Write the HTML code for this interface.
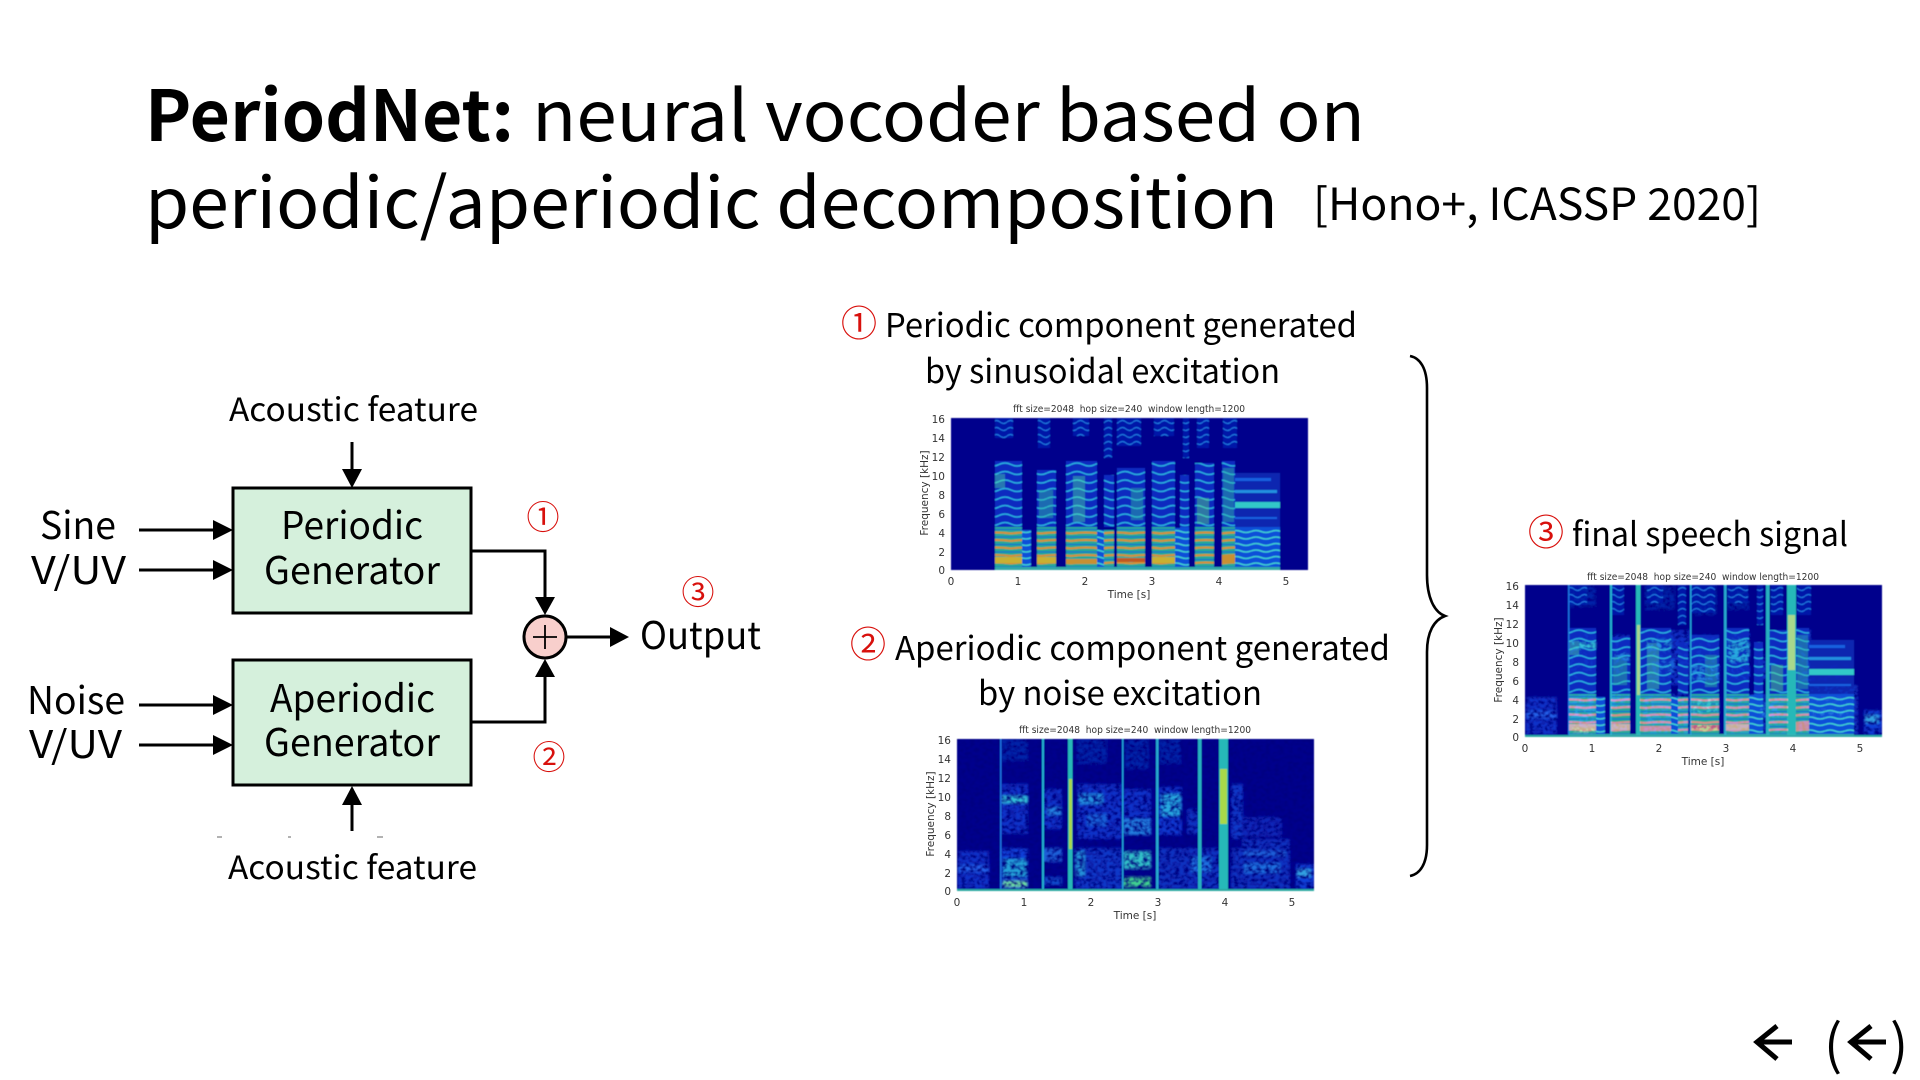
<!DOCTYPE html>
<html><head><meta charset="utf-8"><style>
html,body{margin:0;padding:0;background:#fff}
svg{display:block}
.t{font-family:"Noto Sans CJK JP","Liberation Sans",sans-serif;fill:#000}
.r{font-family:"Noto Sans CJK JP","Liberation Sans",sans-serif;fill:#d8100c;font-size:33px;text-anchor:middle}
.q{font-size:36px}
.a{font-family:"DejaVu Sans","Liberation Sans",sans-serif;fill:#333;font-size:10.5px}
</style></head><body>
<svg xmlns="http://www.w3.org/2000/svg" width="1920" height="1080" viewBox="0 0 1920 1080">
<defs>
<filter id="b" x="-5%" y="-5%" width="110%" height="110%"><feGaussianBlur stdDeviation="0.55"/></filter>
<filter id="s" filterUnits="userSpaceOnUse" x="0" y="0" width="357" height="152"><feGaussianBlur stdDeviation="1.1 1.3"/></filter>
<filter id="n" x="0" y="0" width="100%" height="100%" color-interpolation-filters="sRGB"><feTurbulence type="fractalNoise" baseFrequency=".22 .3" numOctaves="2" seed="4"/><feColorMatrix values="0 0 0 0 0  0 0 0 0 0  0 0 0 0 .5  2.6 0 0 0 -1"/></filter>
<pattern id="pLow" width="30" height="7.5" patternUnits="userSpaceOnUse"><rect width="30" height="7.5" fill="#28a898"/><path d="M0 3Q15 1 30 3" stroke="#d89030" stroke-width="2" fill="none"/><path d="M0 6.5H30" stroke="#1570d0" stroke-width="1.2"/></pattern>
<pattern id="pMid" width="24" height="8.5" patternUnits="userSpaceOnUse"><rect width="24" height="8.5" fill="#0a2cc0"/><path d="M0 4Q6 1 12 4T24 4" stroke="#2cb0e0" stroke-width="1.5" fill="none"/></pattern>
<pattern id="pTop" width="14" height="7" patternUnits="userSpaceOnUse"><rect width="14" height="7" fill="#0618a8"/><path d="M0 4Q3.5 1 7 4T14 4" stroke="#1f78e0" stroke-width="1.1" fill="none"/></pattern>
<pattern id="pBl" width="20" height="6.5" patternUnits="userSpaceOnUse"><rect width="20" height="6.5" fill="#1050d8"/><path d="M0 3Q5 1 10 3T20 3" stroke="#40d0d0" stroke-width="1.5" fill="none"/></pattern>
<g id="per">
<rect width="357" height="152" fill="#00008c"/>
<rect x="44" y="43" width="27" height="66" fill="url(#pMid)"/><rect x="86" y="52" width="19" height="57" fill="url(#pMid)"/><rect x="115" y="43" width="31" height="66" fill="url(#pMid)"/><rect x="153" y="57" width="10" height="52" fill="url(#pMid)"/><rect x="166" y="50" width="28" height="59" fill="url(#pMid)"/><rect x="201" y="43" width="23" height="66" fill="url(#pMid)"/><rect x="229" y="57" width="9" height="52" fill="url(#pMid)"/><rect x="244" y="45" width="19" height="64" fill="url(#pMid)"/><rect x="271" y="43" width="13" height="66" fill="url(#pMid)"/>
<rect x="44" y="0" width="18" height="20" fill="url(#pTop)"/><rect x="87" y="0" width="12" height="30" fill="url(#pTop)"/><rect x="122" y="0" width="16" height="18" fill="url(#pTop)"/><rect x="153" y="0" width="8" height="40" fill="url(#pTop)"/><rect x="166" y="0" width="24" height="28" fill="url(#pTop)"/><rect x="203" y="0" width="20" height="18" fill="url(#pTop)"/><rect x="232" y="0" width="6" height="40" fill="url(#pTop)"/><rect x="246" y="0" width="12" height="30" fill="url(#pTop)"/><rect x="272" y="0" width="14" height="30" fill="url(#pTop)"/>
<g opacity=".42"><rect x="44" y="56" width="10" height="14" fill="#50e0a0"/><rect x="122" y="58" width="12" height="46" fill="#50e0a0"/><rect x="246" y="80" width="12" height="26" fill="#60e080"/><rect x="272" y="50" width="11" height="54" fill="#30c0a0"/><rect x="88" y="72" width="14" height="28" fill="#30c0a0"/><rect x="180" y="70" width="12" height="32" fill="#30c0a0"/></g>
<rect x="44" y="109" width="27" height="41" fill="url(#pLow)"/><rect x="86" y="109" width="19" height="41" fill="url(#pLow)"/><rect x="115" y="109" width="31" height="41" fill="url(#pLow)"/><rect x="153" y="112" width="10" height="38" fill="url(#pLow)"/><rect x="166" y="109" width="28" height="41" fill="url(#pLow)"/><rect x="201" y="109" width="23" height="41" fill="url(#pLow)"/><rect x="229" y="109" width="9" height="41" fill="url(#pBl)"/><rect x="244" y="109" width="19" height="41" fill="url(#pLow)"/><rect x="271" y="109" width="13" height="41" fill="url(#pLow)"/>
<rect x="71" y="112" width="9" height="38" fill="url(#pBl)"/><rect x="146" y="112" width="7" height="38" fill="url(#pBl)"/><rect x="224" y="110" width="5" height="40" fill="url(#pBl)"/>
<rect x="284" y="109" width="45" height="41" fill="url(#pBl)"/>
<rect x="284" y="55" width="45" height="54" fill="#0828b0"/><rect x="284" y="84" width="45" height="6" fill="#30c8c8"/><rect x="284" y="72" width="42" height="3" fill="#2090e0"/><rect x="284" y="60" width="36" height="3" fill="#1860e0"/><rect x="284" y="99" width="42" height="2" fill="#1860e0"/>
<rect x="44" y="139" width="27" height="6" fill="#c8b030"/><rect x="86" y="139" width="19" height="6" fill="#c8b030"/><rect x="115" y="141" width="31" height="5" fill="#c89030"/><rect x="166" y="140" width="28" height="4" fill="#c05820"/><rect x="201" y="139" width="23" height="6" fill="#c8b030"/><rect x="271" y="137" width="13" height="8" fill="#c89030"/>
<rect x="44" y="149" width="285" height="3" fill="#30a8a8"/>
</g>
<g id="ape">
<rect width="357" height="152" fill="#00008c"/>
<g filter="url(#s)">
<rect x="1" y="112" width="31" height="38" fill="#0a30c8"/><rect x="1" y="126" width="31" height="7" fill="#2060e8"/>
<rect x="44" y="109" width="27" height="41" fill="#0c40d8"/><rect x="46" y="120" width="24" height="18" fill="#20a0d8"/><rect x="46" y="142" width="24" height="6" fill="#70e0a0"/><rect x="44" y="45" width="27" height="50" fill="#0a30c8"/><rect x="44" y="57" width="27" height="7" fill="#30c0d8"/><rect x="44" y="0" width="27" height="22" fill="#0520a8"/>
<rect x="86" y="50" width="19" height="40" fill="#0a30c8"/><rect x="90" y="68" width="14" height="8" fill="#2080e0"/><rect x="86" y="109" width="19" height="14" fill="#1a60d8"/><rect x="86" y="138" width="19" height="8" fill="#1050d0"/>
<rect x="118" y="109" width="47" height="41" fill="#0a38c8"/><rect x="120" y="45" width="45" height="55" fill="#0a30c8"/><rect x="122" y="55" width="24" height="10" fill="#2090e0"/><rect x="130" y="75" width="20" height="12" fill="#1860d8"/><rect x="118" y="112" width="10" height="25" fill="#2090d8"/><rect x="120" y="0" width="30" height="25" fill="#0520a8"/>
<rect x="166" y="112" width="28" height="18" fill="#30c0c8"/><rect x="166" y="138" width="28" height="10" fill="#40d090"/><rect x="166" y="50" width="28" height="35" fill="#0a30c8"/><rect x="166" y="80" width="28" height="16" fill="#2080e0"/><rect x="168" y="0" width="24" height="30" fill="#0520a8"/>
<rect x="201" y="48" width="24" height="48" fill="#0c38d0"/><rect x="204" y="55" width="20" height="22" fill="#28a8e0"/><rect x="201" y="109" width="30" height="41" fill="#0a30c0"/><rect x="202" y="0" width="22" height="25" fill="#0520a8"/>
<rect x="230" y="109" width="36" height="41" fill="#0a30c0"/><rect x="234" y="118" width="20" height="15" fill="#1a70e0"/><rect x="230" y="70" width="12" height="25" fill="#0a30c0"/>
<rect x="274" y="45" width="12" height="55" fill="#0a38c8"/><rect x="274" y="109" width="12" height="41" fill="#0a30c0"/>
<rect x="285" y="100" width="48" height="50" fill="#0a30c0"/><rect x="287" y="112" width="42" height="5" fill="#1a60d8"/><rect x="287" y="124" width="36" height="10" fill="#1a70e0"/><rect x="285" y="78" width="40" height="20" fill="#0a28b8"/>
<rect x="339" y="125" width="18" height="25" fill="#0a40d8"/><rect x="340" y="130" width="14" height="8" fill="#30a0e0"/>
</g>
<rect width="357" height="152" filter="url(#n)"/>
<rect x="43" y="0" width="1.5" height="150" fill="#1a70e0"/><rect x="85" y="0" width="2" height="150" fill="#20b0d0"/><rect x="111" y="0" width="4.5" height="152" fill="#28b8b8"/><rect x="112" y="40" width="3" height="70" fill="#a8d848"/><rect x="165" y="0" width="1.5" height="150" fill="#20a0d8"/><rect x="199" y="0" width="2.5" height="150" fill="#28a8d0"/><rect x="241" y="0" width="3.5" height="150" fill="#28b0c0"/><rect x="262" y="0" width="9" height="152" fill="#28b8b8"/><rect x="263" y="30" width="7" height="55" fill="#a8d848"/><rect y="150" width="357" height="2" fill="#2aa8a0"/>
</g>
</defs>

<!-- Title -->
<text class="t" x="145" y="141" font-size="70" font-weight="700" textLength="369" lengthAdjust="spacingAndGlyphs">PeriodNet:</text>
<text class="t" x="532" y="141" font-size="70" textLength="833" lengthAdjust="spacingAndGlyphs">neural vocoder based on</text>
<text class="t" x="145" y="228" font-size="70" textLength="1133" lengthAdjust="spacingAndGlyphs">periodic/aperiodic decomposition</text>
<text class="t" x="1313" y="220" font-size="44" textLength="448" lengthAdjust="spacingAndGlyphs">[Hono+, ICASSP 2020]</text>

<!-- Block diagram -->
<rect x="233" y="488" width="238" height="125" fill="#d5f0dc" stroke="#000" stroke-width="3"/>
<rect x="233" y="660" width="238" height="125" fill="#d5f0dc" stroke="#000" stroke-width="3"/>
<g stroke="#000" stroke-width="3" fill="none">
<path d="M352 442V472"/><path d="M352 831V803"/>
<path d="M139 530H215"/><path d="M139 570H215"/><path d="M139 705H215"/><path d="M139 745H215"/>
<path d="M471 551H545V600"/><path d="M471 722H545V675"/><path d="M567 637H613"/>
</g>
<g fill="#000">
<path d="M342 469H362L352 488Z"/><path d="M342 805H362L352 786Z"/>
<path d="M213 520V540L233 530Z"/><path d="M213 560V580L233 570Z"/><path d="M213 695V715L233 705Z"/><path d="M213 735V755L233 745Z"/>
<path d="M535 597H555L545 615Z"/><path d="M535 677H555L545 659Z"/><path d="M610 627V647L629 637Z"/>
</g>
<circle cx="545" cy="637" r="21" fill="#f8cfcc" stroke="#000" stroke-width="3"/>
<path d="M533 637H557M545 625V649" stroke="#000" stroke-width="1.8"/>
<path d="M217 837h5M288 837h3M377 837h6" stroke="#999" stroke-width="1.5"/>

<text class="t" x="229" y="421" font-size="32" textLength="249" lengthAdjust="spacingAndGlyphs">Acoustic feature</text>
<text class="t" x="228" y="879" font-size="32" textLength="249" lengthAdjust="spacingAndGlyphs">Acoustic feature</text>
<text class="t" x="40" y="539" font-size="38" textLength="76" lengthAdjust="spacingAndGlyphs">Sine</text>
<text class="t" x="31" y="584" font-size="38" textLength="95" lengthAdjust="spacingAndGlyphs">V/UV</text>
<text class="t" x="27" y="714" font-size="38" textLength="98" lengthAdjust="spacingAndGlyphs">Noise</text>
<text class="t" x="29" y="758" font-size="38" textLength="93" lengthAdjust="spacingAndGlyphs">V/UV</text>
<text class="t" x="281" y="539" font-size="38" textLength="142" lengthAdjust="spacingAndGlyphs">Periodic</text>
<text class="t" x="264" y="584" font-size="38" textLength="176" lengthAdjust="spacingAndGlyphs">Generator</text>
<text class="t" x="270" y="712" font-size="38" textLength="165" lengthAdjust="spacingAndGlyphs">Aperiodic</text>
<text class="t" x="264" y="756" font-size="38" textLength="176" lengthAdjust="spacingAndGlyphs">Generator</text>
<text class="t" x="640" y="649" font-size="38" textLength="121" lengthAdjust="spacingAndGlyphs">Output</text>
<text class="r" x="543" y="529">①</text>
<text class="r" x="549" y="769">②</text>
<text class="r" x="698" y="604">③</text>

<!-- Labels -->
<text class="r q" x="859" y="336">①</text>
<text class="t" x="885" y="337" font-size="33" textLength="472" lengthAdjust="spacingAndGlyphs">Periodic component generated</text>
<text class="t" x="925" y="383" font-size="33" textLength="355" lengthAdjust="spacingAndGlyphs">by sinusoidal excitation</text>
<text class="r q" x="868" y="657">②</text>
<text class="t" x="895" y="660" font-size="33" textLength="495" lengthAdjust="spacingAndGlyphs">Aperiodic component generated</text>
<text class="t" x="978" y="705" font-size="33" textLength="284" lengthAdjust="spacingAndGlyphs">by noise excitation</text>
<text class="r q" x="1546" y="545">③</text>
<text class="t" x="1572" y="546" font-size="33" textLength="276" lengthAdjust="spacingAndGlyphs">final speech signal</text>

<!-- Spectrograms -->
<g filter="url(#b)">
<use href="#per" transform="translate(951 418)"/>
<use href="#ape" transform="translate(957 739)"/>
<use href="#per" transform="translate(1525 585)"/>
<use href="#ape" transform="translate(1525 585)" style="mix-blend-mode:lighten"/>
</g>

<!-- Axes 1 -->
<g>
<text class="a" x="1129" y="412" text-anchor="middle" textLength="232" lengthAdjust="spacingAndGlyphs" style="font-size:9.5px">fft size=2048&#160;&#160;hop size=240&#160;&#160;window length=1200</text>
<g text-anchor="end"><text class="a" x="945" y="423">16</text><text class="a" x="945" y="442">14</text><text class="a" x="945" y="461">12</text><text class="a" x="945" y="480">10</text><text class="a" x="945" y="499">8</text><text class="a" x="945" y="518">6</text><text class="a" x="945" y="537">4</text><text class="a" x="945" y="556">2</text><text class="a" x="945" y="574">0</text></g>
<g text-anchor="middle"><text class="a" x="951" y="585">0</text><text class="a" x="1018" y="585">1</text><text class="a" x="1085" y="585">2</text><text class="a" x="1152" y="585">3</text><text class="a" x="1219" y="585">4</text><text class="a" x="1286" y="585">5</text><text class="a" x="1129" y="598">Time [s]</text></g>
<text class="a" text-anchor="middle" transform="translate(928 493) rotate(-90)">Frequency [kHz]</text>
</g>
<!-- Axes 2 -->
<g>
<text class="a" x="1135" y="733" text-anchor="middle" textLength="232" lengthAdjust="spacingAndGlyphs" style="font-size:9.5px">fft size=2048&#160;&#160;hop size=240&#160;&#160;window length=1200</text>
<g text-anchor="end"><text class="a" x="951" y="744">16</text><text class="a" x="951" y="763">14</text><text class="a" x="951" y="782">12</text><text class="a" x="951" y="801">10</text><text class="a" x="951" y="820">8</text><text class="a" x="951" y="839">6</text><text class="a" x="951" y="858">4</text><text class="a" x="951" y="877">2</text><text class="a" x="951" y="895">0</text></g>
<g text-anchor="middle"><text class="a" x="957" y="906">0</text><text class="a" x="1024" y="906">1</text><text class="a" x="1091" y="906">2</text><text class="a" x="1158" y="906">3</text><text class="a" x="1225" y="906">4</text><text class="a" x="1292" y="906">5</text><text class="a" x="1135" y="919">Time [s]</text></g>
<text class="a" text-anchor="middle" transform="translate(934 814) rotate(-90)">Frequency [kHz]</text>
</g>
<!-- Axes 3 -->
<g>
<text class="a" x="1703" y="580" text-anchor="middle" textLength="232" lengthAdjust="spacingAndGlyphs" style="font-size:9.5px">fft size=2048&#160;&#160;hop size=240&#160;&#160;window length=1200</text>
<g text-anchor="end"><text class="a" x="1519" y="590">16</text><text class="a" x="1519" y="609">14</text><text class="a" x="1519" y="628">12</text><text class="a" x="1519" y="647">10</text><text class="a" x="1519" y="666">8</text><text class="a" x="1519" y="685">6</text><text class="a" x="1519" y="704">4</text><text class="a" x="1519" y="723">2</text><text class="a" x="1519" y="741">0</text></g>
<g text-anchor="middle"><text class="a" x="1525" y="752">0</text><text class="a" x="1592" y="752">1</text><text class="a" x="1659" y="752">2</text><text class="a" x="1726" y="752">3</text><text class="a" x="1793" y="752">4</text><text class="a" x="1860" y="752">5</text><text class="a" x="1703" y="765">Time [s]</text></g>
<text class="a" text-anchor="middle" transform="translate(1502 660) rotate(-90)">Frequency [kHz]</text>
</g>

<!-- Brace -->
<path d="M1410 356C1420 358 1427 368 1427 388V575C1427 597 1434 612 1445 616C1434 620 1427 632 1427 652V845C1427 864 1420 874 1410 876" fill="none" stroke="#000" stroke-width="2.6"/>

<!-- Corner arrows -->
<g fill="none" stroke="#000" stroke-width="5">
<path d="M1792 1042H1757"/><path d="M1777 1026L1757 1042L1777 1059"/>
<path d="M1886 1042H1851"/><path d="M1871 1026L1851 1042L1871 1059"/>
</g>
<text class="t" x="1824" y="1064" font-size="54">(</text>
<text class="t" x="1890" y="1064" font-size="54">)</text>
</svg>
</body></html>
